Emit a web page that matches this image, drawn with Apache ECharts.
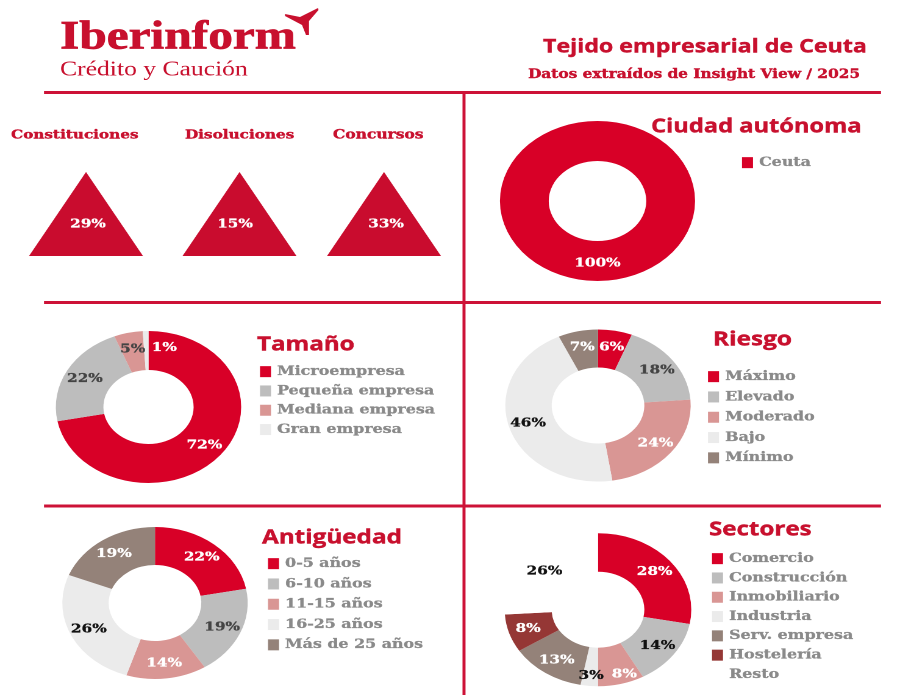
<!DOCTYPE html>
<html>
<head>
<meta charset="utf-8">
<title>Tejido empresarial de Ceuta</title>
<script src="https://cdn.jsdelivr.net/npm/echarts@6/dist/echarts.min.js"></script>
<style>
    html, body { margin: 0; padding: 0; background: #fff; overflow: hidden; }
    /* the source picture is stretched sideways, donuts and text alike */
    #chart { width: 738px; height: 695px; transform-origin: 0 0; transform: scaleX(1.2195); }
</style>
</head>
<body>
<div id="chart"></div>
<script>
// data
var kpiNames = ['Constituciones', 'Disoluciones', 'Concursos'];
var kpiValues = [29, 15, 33];

var ciudadNames = ['Ceuta'];
var ciudadValues = [100];

var tamanoNames = ['Microempresa', 'Pequeña empresa', 'Mediana empresa', 'Gran empresa'];
var tamanoValues = [72, 22, 5, 1];

var riesgoNames = ['Máximo', 'Elevado', 'Moderado', 'Bajo', 'Mínimo'];
var riesgoValues = [6, 18, 24, 46, 7];

var antiguedadNames = ['0-5 años', '6-10 años', '11-15 años', '16-25 años', 'Más de 25 años'];
var antiguedadValues = [22, 19, 14, 26, 19];

var sectoresNames = ['Comercio', 'Construcción', 'Inmobiliario', 'Industria', 'Serv. empresa', 'Hostelería', 'Resto'];
var sectoresValues = [28, 14, 8, 3, 13, 8, 26];

// colours
var RED = '#d80027', GREY = '#bdbdbd', PINK = '#d99694', PALE = '#ebebeb', BROWN = '#948279', DARKRED = '#953735';
var LINE = '#cd1237', TITLE = '#c8102e', LEGEND = '#8a8a8a';
var SERIF = '"DejaVu Serif"', SANS = '"Open Sans"';
var W = '#fff', K = '#111', G = '#444';

var SX = 900 / 738;
function px(x) { return x / SX; }   // picture x -> chart x

function text(x, y, str, font, size, color, weight, stroke) {
    return {
        type: 'text', x: px(x), y: y,
        style: {
            text: str, fontFamily: font, fontSize: size, fontWeight: weight || 'bold', fill: color,
            verticalAlign: 'middle', stroke: color, lineWidth: stroke === undefined ? 0.4 : stroke
        }
    };
}
function bar(x1, y1, x2, y2) {
    return { type: 'rect', shape: { x: px(x1), y: y1, width: px(x2 - x1), height: y2 - y1 }, style: { fill: LINE } };
}
function donut(name, cx, cy, r, names, values, colors, labelColors, offsets) {
    return {
        type: 'pie', name: name,
        center: [px(cx), cy], radius: [r[0], r[1]],
        startAngle: 90, clockwise: true, avoidLabelOverlap: false,
        silent: true, animation: false,
        label: { position: 'inside', fontFamily: SERIF, fontWeight: 'bold', fontSize: 12.5, formatter: function (p) { return p.value + '%'; } },
        labelLine: { show: false },
        data: names.map(function (n, i) {
            var off = offsets && offsets[i];
            return {
                name: n, value: values[i],
                itemStyle: { color: colors[i] },
                label: {
                    color: labelColors[i], textBorderColor: labelColors[i], textBorderWidth: 0.3,
                    offset: off ? [px(off[0]), off[1]] : [0, 0.5]
                }
            };
        })
    };
}
function legend(names, x, y, gap) {
    return {
        data: names, orient: 'vertical', left: px(x), top: y, padding: 0,
        itemWidth: px(11), itemHeight: 11, itemGap: gap, icon: 'rect', selectedMode: false,
        textStyle: { fontFamily: SERIF, fontWeight: 'bold', fontSize: 13, color: LEGEND, textBorderColor: LEGEND, textBorderWidth: 0.3 }
    };
}

// triangles: one small grid each so they sit where the picture has them
var kpiCenters = [86, 239.5, 384];
var kpiLabelShift = [2, -4.5, 2];
var kpiGrids = [], kpiX = [], kpiY = [], kpiSeries = [];
kpiNames.forEach(function (n, i) {
    kpiGrids.push({ left: px(kpiCenters[i] - 60), width: px(120), top: 170, height: 88 });
    kpiX.push({ type: 'category', gridIndex: i, data: [n], show: false });
    kpiY.push({ type: 'category', gridIndex: i, data: ['%'], show: false });
    kpiSeries.push({
        type: 'scatter', name: n, xAxisIndex: i, yAxisIndex: i,
        symbol: 'triangle', symbolSize: [px(114), 84], silent: true, animation: false,
        itemStyle: { color: '#c90c2e', opacity: 1 },
        label: {
            show: true, position: 'inside', offset: [px(kpiLabelShift[i]), 10], color: W,
            textBorderColor: W, textBorderWidth: 0.3,
            fontFamily: SERIF, fontWeight: 'bold', fontSize: 12.5,
            formatter: function (p) { return p.value[2] + '%'; }
        },
        data: [[n, '%', kpiValues[i]]]
    });
});

var myChart = echarts.init(document.getElementById('chart'), null, { devicePixelRatio: 2 });

var option = {
    backgroundColor: '#fff',
    animation: false,
    grid: kpiGrids,
    xAxis: kpiX,
    yAxis: kpiY,
    legend: [
        legend(ciudadNames, 742, 156, 6),
        legend(tamanoNames, 260, 365, 6),
        legend(riesgoNames, 708, 370, 7),
        legend(antiguedadNames, 268, 557, 7),
        legend(sectoresNames, 712, 552, 6)
    ],
    series: kpiSeries.concat([
        donut('Ciudad autónoma', 597.5, 201, [40, 80], ciudadNames, ciudadValues, [RED], [W], [[0, -1]]),
        donut('Tamaño', 148.5, 407, [37, 76], tamanoNames, tamanoValues, [RED, GREY, PINK, PALE], [W, G, G, W], [null, null, null, [18, 0]]),
        donut('Riesgo', 598, 405.5, [38, 76], riesgoNames, riesgoValues, [RED, GREY, PINK, PALE, BROWN], [W, G, W, K, W]),
        donut('Antigüedad', 155, 603, [38, 76], antiguedadNames, antiguedadValues, [RED, GREY, PINK, PALE, BROWN], [W, G, W, K, W]),
        donut('Sectores', 598, 609.7, [38, 76.5], sectoresNames, sectoresValues, [RED, GREY, PINK, PALE, BROWN, DARKRED, '#fff'], [W, K, W, K, W, W, K], [null, null, [8, 6], [0, 6], null, null, [0, 3]])
    ]),
    graphic: [
        // rules
        bar(44, 91, 881, 94),
        bar(44, 301, 881, 304),
        bar(44, 504.5, 881, 507.5),
        bar(462.5, 92, 465.5, 695),
        // logo
        text(60, 38, 'Iberinform', 'Liberation Serif', 40.5, TITLE, 'bold', 0.7),
        text(60, 70, 'Crédito y Caución', 'Liberation Serif', 21, TITLE, 'normal', 0),
        {
            type: 'polygon',
            shape: { points: [[285, 14], [300, 17], [318, 8], [318.5, 10], [309, 21], [309, 35], [306, 35], [302, 25], [285, 16]].map(function (p) { return [px(p[0]), p[1]]; }) },
            style: { fill: TITLE }
        },
        // headings
        text(543, 47, 'Tejido empresarial de Ceuta', SANS, 19, TITLE),
        text(528, 74.5, 'Datos extraídos de Insight View / 2025', SERIF, 12.6, TITLE),
        text(11, 135, 'Constituciones', SERIF, 12.5, TITLE),
        text(185, 135, 'Disoluciones', SERIF, 12.5, TITLE),
        text(333, 135, 'Concursos', SERIF, 12.7, TITLE),
        text(651, 127, 'Ciudad autónoma', SANS, 19.4, TITLE),
        text(257, 345, 'Tamaño', SANS, 19.8, TITLE),
        text(713, 340, 'Riesgo', SANS, 20, TITLE),
        text(262, 538, 'Antigüedad', SANS, 19.9, TITLE),
        text(709, 530, 'Sectores', SANS, 19.8, TITLE)
    ]
};
myChart.setOption(option);
</script>
</body>
</html>
